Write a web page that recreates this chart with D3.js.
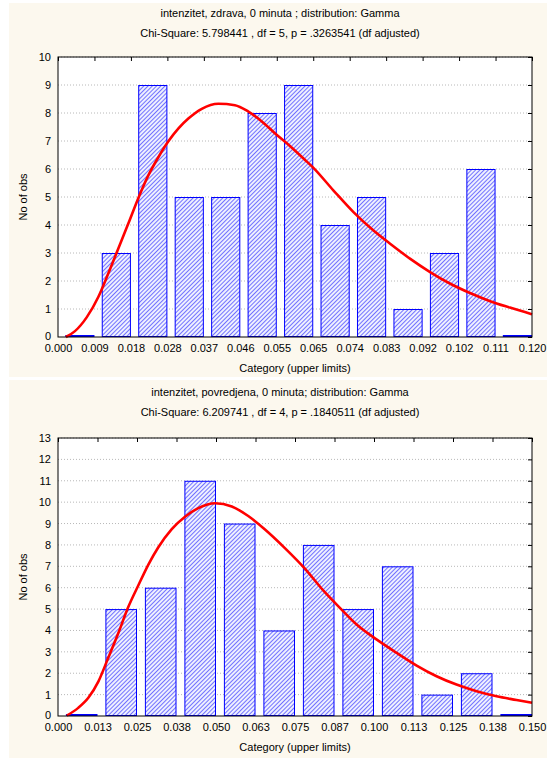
<!DOCTYPE html>
<html><head><meta charset="utf-8">
<script src="https://cdn.jsdelivr.net/npm/d3@7"></script>
<style>
html,body{margin:0;padding:0;background:#ffffff;}
svg{display:block;}
text{font-family:"Liberation Sans",Arial,sans-serif;fill:#000;}
</style></head>
<body>
<svg id="chart" width="547" height="758"></svg>
<script>
// ---------- Panel 1 data ----------
const topTitle1 = "intenzitet, zdrava, 0 minuta ; distribution: Gamma";
const topTitle2 = "Chi-Square: 5.798441 , df = 5, p = .3263541 (df adjusted)";
const topTickLabels = ["0.000","0.009","0.018","0.028","0.037","0.046","0.055","0.065","0.074","0.083","0.092","0.102","0.111","0.120"];
const topCounts = [0,3,9,5,5,8,9,4,5,1,3,6,0];
const topMaxX = 0.12;
const topMaxY = 10;
const topCurveX = [0.0020,0.0043,0.0073,0.0102,0.0127,0.0153,0.0178,0.0203,0.0229,0.0254,0.0279,0.0305,0.0330,0.0364,0.0406,0.0448,0.0482,0.0516,0.0549,0.0585,0.0625,0.0646,0.0697,0.0748,0.0798,0.0840,0.0891,0.0942,0.0992,0.1043,0.1094,0.1144,0.1200];
const topCurveY = [0.00,0.21,0.71,1.43,2.26,3.17,4.05,4.95,5.78,6.42,6.98,7.45,7.80,8.15,8.33,8.28,8.05,7.70,7.28,6.85,6.33,6.05,5.24,4.46,3.81,3.34,2.80,2.32,1.91,1.57,1.28,1.05,0.81];

// ---------- Panel 2 data ----------
const botTitle1 = "intenzitet, povredjena, 0 minuta; distribution: Gamma";
const botTitle2 = "Chi-Square: 6.209741 , df = 4, p = .1840511 (df adjusted)";
const botTickLabels = ["0.000","0.013","0.025","0.038","0.050","0.063","0.075","0.087","0.100","0.113","0.125","0.138","0.150"];
const botCounts = [0,5,6,11,9,4,8,5,7,1,2,0];
const botMaxX = 0.15;
const botMaxY = 13;
const botCurveX = [0.0028,0.0064,0.0096,0.0128,0.0159,0.0191,0.0222,0.0254,0.0286,0.0317,0.0360,0.0402,0.0444,0.0497,0.0550,0.0602,0.0655,0.0718,0.0782,0.0840,0.0892,0.0945,0.1009,0.1072,0.1135,0.1198,0.1261,0.1325,0.1388,0.1451,0.1500];
const botCurveY = [0.02,0.38,0.85,1.62,2.72,3.88,5.08,6.10,7.08,7.88,8.74,9.32,9.72,9.95,9.80,9.35,8.72,7.85,6.88,5.86,5.06,4.28,3.57,2.95,2.36,1.86,1.47,1.16,0.92,0.75,0.62];

const xTitle = "Category (upper limits)";
const yTitle = "No of obs";

const svg = d3.select("#chart");
const defs = svg.append("defs");
const pat = defs.append("pattern").attr("id","hatch").attr("patternUnits","userSpaceOnUse")
  .attr("width",3).attr("height",3).attr("patternTransform","rotate(45)");
pat.append("rect").attr("width",3).attr("height",3).attr("fill","#eef0ff");
pat.append("line").attr("x1",0).attr("y1",0).attr("x2",0).attr("y2",3)
  .attr("stroke","#4848ff").attr("stroke-width",1.5);

// backgrounds
const cream = "#fcf8ee";
svg.append("rect").attr("x",9).attr("y",3).attr("width",538).attr("height",374).attr("fill",cream);
svg.append("rect").attr("x",9).attr("y",380).attr("width",538).attr("height",378).attr("fill",cream);

function panel(cfg){
  const {top, t1, t2, ticks, counts, maxX, maxY, cx, cy, plotTop, plotBottom} = cfg;
  const left = 58, right = 532;
  const g = svg.append("g");
  const x = d3.scaleLinear().domain([0,maxX]).range([left,right]);
  const y = d3.scaleLinear().domain([0,maxY]).range([plotBottom,plotTop]);
  const n = counts.length;
  const binW = maxX/n;
  const tickVals = d3.range(n+1).map(i=>i*binW);

  // titles
  g.append("text").attr("x",280).attr("y",top+15).attr("text-anchor","middle").attr("font-size","11px").text(t1);
  g.append("text").attr("x",280).attr("y",top+35).attr("text-anchor","middle").attr("font-size","11px").text(t2);

  // plot bg
  g.append("rect").attr("x",left).attr("y",plotTop).attr("width",right-left).attr("height",plotBottom-plotTop).attr("fill","#fff");

  // gridlines
  g.append("g").selectAll("line").data(d3.range(1,maxY+1)).join("line")
    .attr("x1",left).attr("x2",right).attr("y1",d=>y(d)).attr("y2",d=>y(d))
    .attr("stroke","#b8b8b8").attr("stroke-width",1).attr("stroke-dasharray","1,2");

  // bars
  const bars = g.append("g");
  counts.forEach((c,i)=>{
    const x0 = x(i*binW + binW*0.2), x1 = x((i+1)*binW);
    if(c>0){
      bars.append("rect").attr("x",x0+0.5).attr("y",y(c)+0.5).attr("width",x1-x0-1).attr("height",y(0)-y(c)-1)
        .attr("fill","url(#hatch)").attr("stroke","#0000ff").attr("stroke-width",1);
    } else {
      bars.append("line").attr("x1",x0).attr("x2",x1).attr("y1",y(0)-1).attr("y2",y(0)-1)
        .attr("stroke","#0000ff").attr("stroke-width",2);
    }
  });

  // curve
  const pts = cx.map((v,i)=>[v,cy[i]]);
  g.append("path").datum(pts)
    .attr("d",d3.line().x(d=>x(d[0])).y(d=>y(d[1])).curve(d3.curveMonotoneX))
    .attr("fill","none").attr("stroke","#ff0000").attr("stroke-width",2.6);

  // axes
  const fmt = (d,i)=>ticks[i];
  const xb = g.append("g").attr("transform",`translate(0,${plotBottom})`)
    .call(d3.axisBottom(x).tickValues(tickVals).tickFormat(fmt).tickSize(0).tickPadding(7));
  xb.select(".domain").remove();
  xb.selectAll("text").attr("font-size","11px").attr("font-family","Liberation Sans, Arial, sans-serif").attr("fill","#000");
  const xt = g.append("g").attr("transform",`translate(0,${plotTop})`)
    .call(d3.axisBottom(x).tickValues(tickVals).tickFormat("").tickSize(4));
  xt.select(".domain").remove();
  xt.selectAll("line").attr("stroke","#000");
  const yl = g.append("g").attr("transform",`translate(${left},0)`)
    .call(d3.axisLeft(y).tickValues(d3.range(0,maxY+1)).tickFormat(d3.format("d")).tickSize(0).tickPadding(7));
  yl.select(".domain").remove();
  yl.selectAll("text").attr("font-size","11px").attr("font-family","Liberation Sans, Arial, sans-serif").attr("fill","#000")
    .attr("dy", d => d===0 ? "0.2em" : "0.32em");
  const yr = g.append("g").attr("transform",`translate(${right},0)`)
    .call(d3.axisLeft(y).tickValues(d3.range(0,maxY+1)).tickFormat("").tickSize(4));
  yr.select(".domain").remove();
  yr.selectAll("line").attr("stroke","#000");

  // frame
  g.append("rect").attr("x",left).attr("y",plotTop).attr("width",right-left).attr("height",plotBottom-plotTop)
    .attr("fill","none").attr("stroke","#000").attr("stroke-width",1);

  // axis titles
  g.append("text").attr("x",(left+right)/2).attr("y",plotBottom+35).attr("text-anchor","middle").attr("font-size","11px").text(xTitle);
  g.append("text").attr("transform",`translate(27,${(plotTop+plotBottom)/2}) rotate(-90)`).attr("text-anchor","middle").attr("font-size","11px").text(yTitle);
}

panel({top:2, t1:topTitle1, t2:topTitle2, ticks:topTickLabels, counts:topCounts, maxX:topMaxX, maxY:topMaxY,
  cx:topCurveX, cy:topCurveY, plotTop:57, plotBottom:337});
panel({top:381, t1:botTitle1, t2:botTitle2, ticks:botTickLabels, counts:botCounts, maxX:botMaxX, maxY:botMaxY,
  cx:botCurveX, cy:botCurveY, plotTop:438, plotBottom:716});
</script>
</body></html>
